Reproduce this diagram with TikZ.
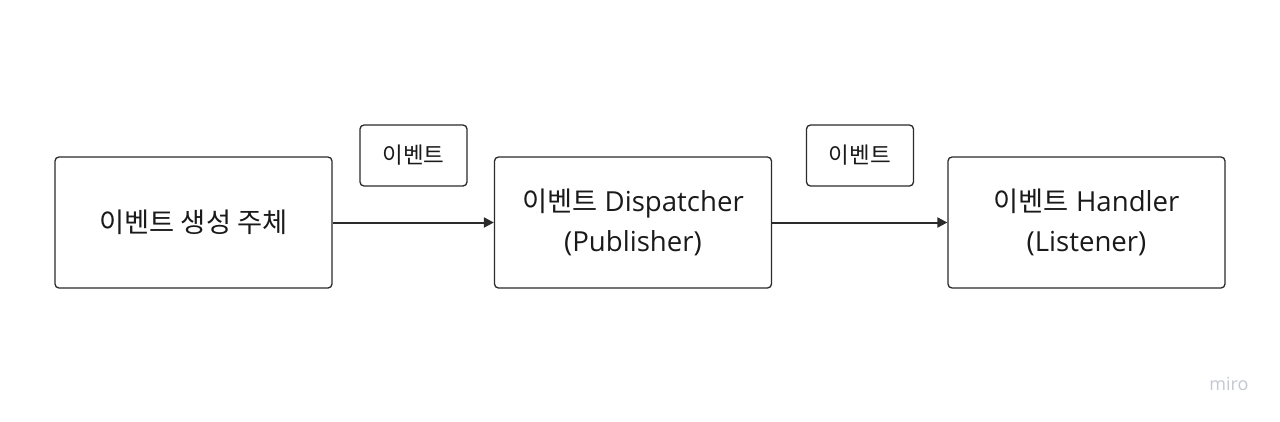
\documentclass[tikz,border=0pt]{standalone}
\usepackage{fontspec}
\setmainfont{Open Sans}
\newfontfamily\kr{Noto Sans CJK KR}
\usetikzlibrary{arrows.meta}
\definecolor{ink}{HTML}{1A1A1A}
\definecolor{edge}{HTML}{2B2B2B}
\definecolor{mirogray}{HTML}{C5C8D3}
\newcommand{\krbig}{\kr\fontsize{27.3}{40}\selectfont}
\begin{document}
\begin{tikzpicture}[x=1pt,y=-1pt,
  bigbox/.style={draw=edge,line width=1.3pt,rounded corners=4pt,minimum width=277pt,minimum height=131pt,inner sep=0pt,align=center,text=ink,font=\fontsize{27.6}{40}\selectfont},
  tagbox/.style={draw=edge,line width=1.3pt,rounded corners=4pt,minimum width=107pt,minimum height=61pt,inner sep=0pt,text=ink,font=\kr\fontsize{22.5}{26}\selectfont},
  flow/.style={draw=edge,line width=2pt,-{Triangle[length=10pt,width=10pt]}}]
\useasboundingbox (0,0) rectangle (1280,421);
\fill[white] (0,0) rectangle (1280,421);
\node[bigbox,font=\krbig] (src) at (193.5,222.5) {이벤트 생성 주체};
\node[bigbox] (disp) at (633,222.5) {\raisebox{0pt}{}{\krbig 이벤트} Dispatcher\\(Publisher)};
\node[bigbox] (hand) at (1086.5,222.5) {{\krbig 이벤트} Handler\\(Listener)};
\node[tagbox] (t1) at (413.5,155.5) {이벤트};
\node[tagbox] (t2) at (860,155.5) {이벤트};
\draw[flow] (src.east) -- (disp.west);
\draw[flow] (disp.east) -- (hand.west);
\node[text=mirogray,font=\fontsize{18}{20}\selectfont] (miro) at (1229,384) {miro};
\end{tikzpicture}
\end{document}
